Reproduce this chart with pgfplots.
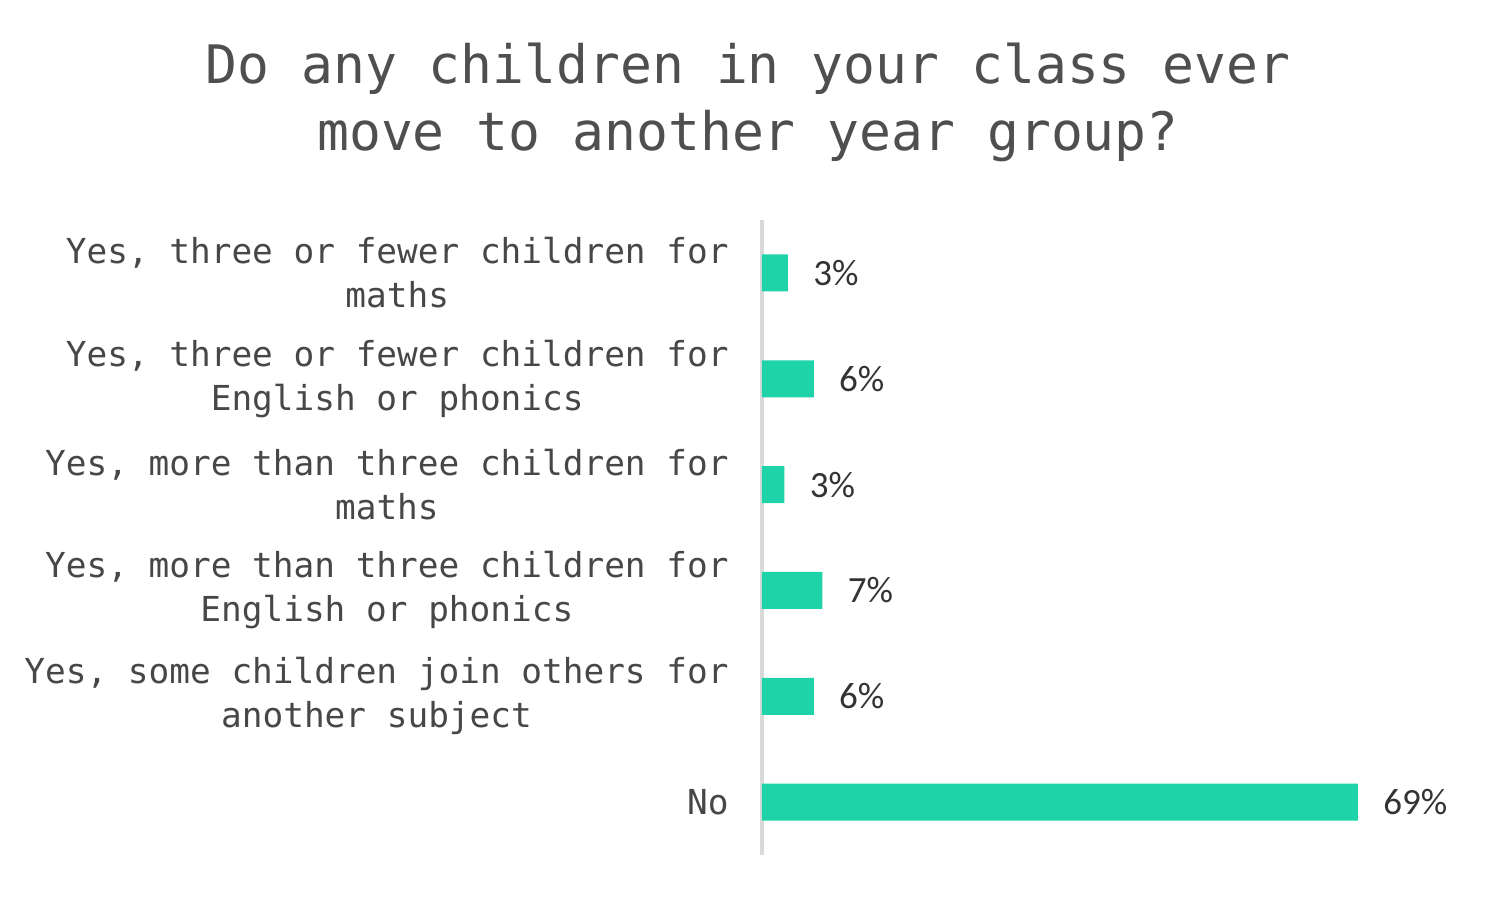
\documentclass[border=0pt]{standalone}
\usepackage{pgfplots}
\pgfplotsset{compat=1.18}
\usepackage{fontspec}
\setmainfont{Carlito}
\newfontfamily\monofont{DejaVu Sans Mono}
\definecolor{barc}{HTML}{1FD3A8}
\definecolor{titlec}{HTML}{4F4F4F}
\definecolor{labc}{HTML}{474747}
\definecolor{valc}{HTML}{333333}
\definecolor{axc}{HTML}{D9D9D9}
\begin{document}
\begin{tikzpicture}
\useasboundingbox (0,0) rectangle (750pt,-450pt);
\node[align=center, font=\monofont\fontsize{26.5}{33.5}\selectfont, text=titlec] at (374pt,-51pt)
  {Do any children in your class ever\\move to another year group?};
\begin{axis}[
  at={(381pt,-427.5pt)}, anchor=south west,
  scale only axis, width=345.5pt, height=317.5pt,
  xbar, bar width=18.5pt,
  xmin=0, xmax=80,
  ymin=-0.5, ymax=5.5, y dir=reverse,
  axis x line=none,
  axis y line=left,
  axis line style={draw=axc, line width=2pt, -},
  major tick length=0pt,
  ytick={0,1,2,3,4,5},
  yticklabels={{Yes, three or fewer children for\\maths},
               {Yes, three or fewer children for\\English or phonics},
               {Yes, more than three children for\\maths},
               {Yes, more than three children for\\English or phonics},
               {Yes, some children join others for\\another subject},
               {No}},
  yticklabel style={align=center, font=\monofont\fontsize{17.2}{22}\selectfont, text=labc, inner sep=0pt, anchor=east, xshift=-16.5pt},
  /pgf/number format/assume math mode=true,
  nodes near coords={\pgfmathprintnumber[assume math mode=true, fixed, precision=0]{\pgfplotspointmeta}\%},
  nodes near coords style={anchor=west, font=\fontsize{18.5}{20}\selectfont, text=valc, inner sep=0pt, xshift=12.5pt},
  point meta=x,
  clip=false,
]
\addplot[fill=barc, draw=none] coordinates {(3,0) (6,1) (2.6,2) (7,3) (6,4) (69,5)};
\end{axis}
\end{tikzpicture}
\end{document}
